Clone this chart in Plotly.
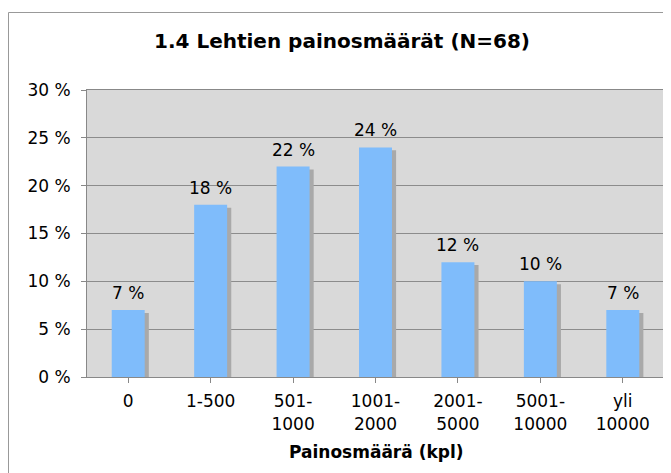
import plotly.graph_objects as go

categories = ["0", "1-500", "501-<br>1000", "1001-<br>2000", "2001-<br>5000", "5001-<br>10000", "yli<br>10000"]
values = [7, 18, 22, 24, 12, 10, 7]
labels = [f"{v} %" for v in values]

# figure is drawn inside the page body (8px default margin), so coordinates are page - 8
W, H = 671, 473
L, T = 79, 82
R, B = W - 656, H - 369
pw, ph = W - L - R, H - T - B

x_idx = list(range(len(categories)))
shadow_vals = [v - 0.3 for v in values]

fig = go.Figure()
fig.add_trace(go.Bar(
    x=x_idx, y=shadow_vals, width=0.4, offset=-0.15,
    marker=dict(color="#a9a9a9", line=dict(width=0)),
    hoverinfo="skip", showlegend=False,
))
fig.add_trace(go.Bar(
    x=x_idx, y=values, width=0.4, offset=-0.2,
    marker=dict(color="#7fbcfb", line=dict(width=0)),
    hoverinfo="skip", showlegend=False,
))

annotations = [
    dict(text=lab, x=xi, y=v, xref="x", yref="y", yanchor="bottom", xanchor="center",
         yshift=5, showarrow=False, font=dict(size=17))
    for xi, v, lab in zip(x_idx, values, labels)
]
annotations.append(
    dict(text="<b>Painosmäärä (kpl)</b>", xref="paper", yref="paper",
         x=(367.5 - L) / pw, y=-(444 - T - ph) / ph, xanchor="center", yanchor="middle",
         showarrow=False, font=dict(size=17))
)

fig.update_layout(
    width=W, height=H, barmode="overlay",
    margin=dict(l=L, r=R, t=T, b=B, autoexpand=False),
    paper_bgcolor="white", plot_bgcolor="#d9d9d9",
    font=dict(family="DejaVu Sans", size=17, color="#000"),
    title=dict(text="<b>1.4 Lehtien painosmäärät (N=68)</b>", x=(334 - L) / pw, xref="paper",
               xanchor="center", y=1 - 33 / H, yanchor="middle", font=dict(size=20)),
    xaxis=dict(
        range=[-0.5, 6.5], tickvals=x_idx, ticktext=categories,
        tickson="boundaries", ticks="outside", ticklen=5, tickcolor="#888",
        showline=True, linecolor="#888", linewidth=1, mirror=True,
        showgrid=False, automargin=False, ticklabelstandoff=4,
        tickfont=dict(size=17),
    ),
    yaxis=dict(
        range=[0, 30], dtick=5, ticksuffix=" %",
        ticks="outside", ticklen=5, tickcolor="#888",
        showline=True, linecolor="#888", linewidth=1, mirror=True,
        gridcolor="#8c8c8c", gridwidth=1, zeroline=False, automargin=False,
        ticklabelstandoff=7,
        tickfont=dict(size=17),
    ),
    annotations=annotations,
    shapes=[
        dict(type="line", xref="paper", yref="paper",
             x0=(0.5 - L) / pw, x1=(W + 5 - L) / pw, y0=1 + (T - 4.5) / ph, y1=1 + (T - 4.5) / ph,
             line=dict(color="#999", width=1)),
        dict(type="line", xref="paper", yref="paper",
             x0=(0.5 - L) / pw, x1=(0.5 - L) / pw, y0=1 + (T - 4.5) / ph, y1=-(B + 5) / ph,
             line=dict(color="#999", width=1)),
    ],
)

fig.write_html("out.html")
